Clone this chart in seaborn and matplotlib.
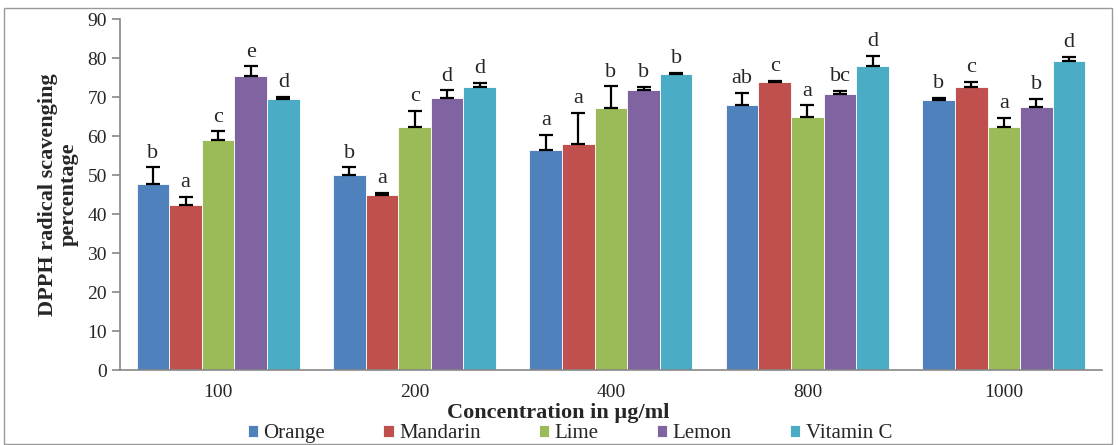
import numpy as np
import pandas as pd
import matplotlib
matplotlib.use("Agg")
import matplotlib.pyplot as plt
import seaborn as sns
from matplotlib.patches import Rectangle

# Chart data
concentrations = ["100", "200", "400", "800", "1000"]
extracts = ["Orange", "Mandarin", "Lime", "Lemon", "Vitamin C"]
colors = ["#4F81BD", "#C0504D", "#9BBB59", "#8064A2", "#4BACC6"]

orange = [47.7, 50.0, 56.5, 68.1, 69.2]
mandarin = [42.2, 45.0, 57.9, 73.8, 72.7]
lime = [59.1, 62.3, 67.1, 64.8, 62.3]
lemon = [75.5, 69.8, 71.8, 70.7, 67.4]
vitamin_c = [69.6, 72.5, 75.8, 78.0, 79.2]

orange_err = [4.3, 2.0, 3.8, 3.0, 0.6]
mandarin_err = [2.2, 0.4, 8.1, 0.4, 1.2]
lime_err = [2.1, 4.2, 5.7, 3.1, 2.4]
lemon_err = [2.4, 1.9, 0.8, 0.9, 2.1]
vitamin_c_err = [0.4, 1.1, 0.4, 2.5, 1.1]

orange_sig = ["b", "b", "a", "ab", "b"]
mandarin_sig = ["a", "a", "a", "c", "c"]
lime_sig = ["c", "c", "b", "a", "a"]
lemon_sig = ["e", "d", "b", "bc", "b"]
vitamin_c_sig = ["d", "d", "b", "d", "d"]

values = [orange, mandarin, lime, lemon, vitamin_c]
errors = [orange_err, mandarin_err, lime_err, lemon_err, vitamin_c_err]
letters = [orange_sig, mandarin_sig, lime_sig, lemon_sig, vitamin_c_sig]

rows = []
for name, vals in zip(extracts, values):
    for conc, v in zip(concentrations, vals):
        rows.append({"Concentration": conc, "Extract": name, "DPPH": v})
df = pd.DataFrame(rows)

sns.set_style("white")
plt.rcParams["font.family"] = ["Liberation Serif", "DejaVu Serif"]

fig = plt.figure(figsize=(11.18, 4.45), dpi=100)
ax = fig.add_axes([0.1073, 0.1685, 0.8784, 0.7885])

sns.barplot(data=df, x="Concentration", y="DPPH", hue="Extract",
            order=concentrations, hue_order=extracts, palette=colors,
            width=0.83, errorbar=None, edgecolor="white", linewidth=0.6,
            saturation=1, ax=ax)

# plus-only error bars and significance letters
for cont, errs, labs in zip(ax.containers, errors, letters):
    for bar, e, lab in zip(cont, errs, labs):
        x = bar.get_x() + bar.get_width() / 2
        h = bar.get_height()
        ax.errorbar(x, h, yerr=[[0], [e]], fmt="none", ecolor="black",
                    elinewidth=1.6, capsize=5, capthick=1.6, zorder=5)
        ax.text(x, h + e + 1.2, lab, ha="center", va="bottom", fontsize=16)

ax.set_ylim(0, 90)
ax.set_yticks(range(0, 91, 10))
ax.set_xlim(-0.5, 4.5)
ax.set_xticks(np.arange(-0.5, 5, 1), minor=True)
ax.tick_params(axis="x", which="major", length=0, labelsize=14, pad=10)
ax.tick_params(axis="x", which="minor", length=6, color="#888888", width=1.2, direction="out")
ax.tick_params(axis="y", length=6, color="#888888", width=1.2, direction="out", labelsize=14, left=True)

for s in ["top", "right"]:
    ax.spines[s].set_visible(False)
for s in ["left", "bottom"]:
    ax.spines[s].set_color("#888888")
    ax.spines[s].set_linewidth(1.2)

ax.set_xlabel("Concentration in µg/ml", fontsize=16, fontweight="bold")
ax.xaxis.set_label_coords(0.446, -0.093)
ax.set_ylabel("DPPH radical scavenging\npercentage", fontsize=16, fontweight="bold",
              labelpad=6, linespacing=1.05)

ax.legend(loc="center", bbox_to_anchor=(0.458, -0.182), ncol=5, frameon=False,
          prop={"family": "Liberation Serif", "size": 15},
          handlelength=0.5, handleheight=0.5, handletextpad=0.25,
          columnspacing=2.8, borderaxespad=0, borderpad=0)

# chart area border
fig.patches.append(Rectangle((0.004, 0.003), 0.991, 0.979, transform=fig.transFigure,
                             fill=False, edgecolor="#999999", linewidth=1.0))

fig.savefig("out.png", dpi=100)
